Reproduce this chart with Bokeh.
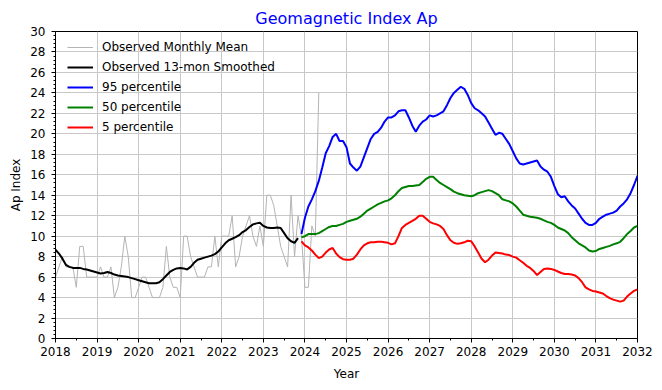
from bokeh.plotting import figure
from bokeh.models import Range1d, SingleIntervalTicker
from bokeh.embed import file_html
from bokeh.resources import INLINE

# Observed monthly mean Ap, Jan 2018 .. May 2024
obs_start = 2018.0
obs_monthly = [6, 7, 8, 7, 7, 7, 5, 9, 9, 6, 6, 6,
               6, 7, 6, 6, 7, 4, 5, 7, 10, 8, 4, 4,
               5, 6, 6, 5, 4, 4, 4, 5, 9, 6, 5, 5,
               4, 10, 10, 8, 7, 6, 6, 6, 7, 7, 10, 7,
               10, 10, 10, 12, 7, 8, 10, 11, 12, 10, 9, 11,
               9, 14, 14, 13, 11, 9, 8, 7, 14, 8, 12, 10,
               5, 5, 11, 10, 24]

# Observed 13-month smoothed, Jan 2018 .. Nov 2023
obs_smoothed = [8.67, 8.3, 7.8, 7.2, 7.0, 6.9, 6.9, 6.9, 6.8, 6.75, 6.65, 6.55,
                6.45, 6.35, 6.4, 6.5, 6.4, 6.25, 6.15, 6.1, 6.05, 6.0, 5.9, 5.8,
                5.7, 5.6, 5.5, 5.4, 5.4, 5.4, 5.5, 5.8, 6.15, 6.5, 6.7, 6.85,
                6.9, 6.85, 6.75, 7.0, 7.4, 7.7, 7.8, 7.9, 8.0, 8.1, 8.25, 8.5,
                8.9, 9.3, 9.6, 9.75, 9.9, 10.1, 10.4, 10.6, 10.9, 11.15, 11.25, 11.3,
                11.0, 10.85, 10.8, 10.8, 10.85, 10.8, 10.3, 9.8, 9.5, 9.35, 9.8]

# Predictions, Dec 2023 .. Jan 2032
pred_start = 2023 + 11 / 12
p95 = [10.2, 11.8, 12.9, 13.6, 14.4, 15.4, 16.7, 18.1, 18.8, 19.7, 20.0, 19.3,
       19.3, 18.7, 17.1, 16.7, 16.4, 16.8, 17.7, 18.6, 19.5, 20.0, 20.2, 20.6,
       21.2, 21.6, 21.6, 21.8, 22.2, 22.3, 22.3, 21.6, 20.8, 20.2, 20.8, 21.2,
       21.4, 21.8, 21.7, 21.8, 22.0, 22.2, 22.8, 23.5, 24.0, 24.3, 24.6, 24.4,
       23.8, 23.0, 22.5, 22.3, 22.0, 21.7, 21.1, 20.5, 19.9, 20.1, 20.0, 19.5,
       19.0, 18.3, 17.6, 17.1, 17.0, 17.1, 17.2, 17.3, 17.4, 16.8, 16.5, 16.3,
       15.8, 14.9, 14.1, 13.8, 13.9, 13.4, 13.0, 12.7, 12.2, 11.7, 11.3, 11.1,
       11.1, 11.3, 11.7, 11.9, 12.1, 12.2, 12.3, 12.5, 12.9, 13.2, 13.6, 14.2,
       15.0, 15.9]
p50 = [9.9, 10.0, 10.2, 10.2, 10.2, 10.3, 10.5, 10.7, 10.9, 11.0, 11.0, 11.1,
       11.2, 11.4, 11.5, 11.6, 11.7, 11.9, 12.2, 12.5, 12.7, 12.9, 13.1, 13.25,
       13.4, 13.5, 13.7, 14.0, 14.4, 14.7, 14.8, 14.9, 14.9, 14.95, 15.0, 15.3,
       15.6, 15.8, 15.8, 15.5, 15.2, 15.0, 14.8, 14.6, 14.35, 14.2, 14.1, 14.0,
       13.95, 13.9, 14.0, 14.2, 14.3, 14.4, 14.5, 14.4, 14.2, 14.0, 13.6, 13.5,
       13.4, 13.2, 12.9, 12.5, 12.1, 12.0, 11.9, 11.85, 11.8, 11.7, 11.55, 11.4,
       11.3, 11.1, 10.85, 10.7, 10.55, 10.3, 9.9, 9.6, 9.3, 9.1, 8.9, 8.6,
       8.5, 8.55, 8.75, 8.85, 8.95, 9.05, 9.2, 9.3, 9.45, 9.8, 10.2, 10.5,
       10.85, 11.0]
p5 = [9.5, 9.1, 8.9, 8.6, 8.2, 7.85, 8.0, 8.4, 8.7, 8.85, 8.3, 7.95,
      7.75, 7.7, 7.7, 7.8, 8.2, 8.7, 9.1, 9.3, 9.4, 9.4, 9.45, 9.45,
      9.4, 9.35, 9.2, 9.3, 10.0, 10.8, 11.1, 11.3, 11.5, 11.7, 12.0, 12.0,
      11.7, 11.4, 11.25, 11.15, 11.0, 10.7, 10.1, 9.6, 9.35, 9.25, 9.3, 9.4,
      9.55, 9.5, 9.0, 8.4, 7.8, 7.45, 7.7, 8.1, 8.4, 8.35, 8.3, 8.2,
      8.15, 8.0, 7.9, 7.65, 7.4, 7.1, 6.9, 6.6, 6.2, 6.5, 6.8, 6.85,
      6.8, 6.7, 6.55, 6.4, 6.3, 6.3, 6.25, 6.15, 5.9, 5.5, 5.0, 4.8,
      4.65, 4.6, 4.5, 4.4, 4.15, 3.95, 3.8, 3.7, 3.6, 3.7, 4.1, 4.4,
      4.65, 4.8]

x_obs = [obs_start + i / 12 for i in range(len(obs_monthly))]
x_sm = [obs_start + i / 12 for i in range(len(obs_smoothed))]
x_pred = [pred_start + i / 12 for i in range(len(p95))]

FONT = "DejaVu Sans"

p = figure(width=662, height=390, output_backend="svg", toolbar_location=None,
           x_range=Range1d(2018, 2032), y_range=Range1d(0, 30),
           title="Geomagnetic Index Ap",
           min_border_left=55, min_border_right=25, min_border_bottom=52,
           min_border_top=31)

p.line(x_obs, obs_monthly, line_color="#b4b4b4", line_width=1, legend_label="Observed Monthly Mean")
p.line(x_sm, obs_smoothed, line_color="black", line_width=2, legend_label="Observed 13-mon Smoothed")
p.line(x_pred, p95, line_color="#0000ff", line_width=2, legend_label="95 percentile")
p.line(x_pred, p50, line_color="#008000", line_width=2, legend_label="50 percentile")
p.line(x_pred, p5, line_color="#ff0000", line_width=2, legend_label="5 percentile")

p.title.text_color = "#0000ff"
p.title.text_font = FONT
p.title.text_font_size = "16px"
p.title.text_font_style = "normal"
p.title.align = "center"
p.title.standoff = 8

p.xaxis.ticker = SingleIntervalTicker(interval=1, num_minor_ticks=2)
p.yaxis.ticker = SingleIntervalTicker(interval=2, num_minor_ticks=5)
p.xaxis.axis_label = "Year"
p.yaxis.axis_label = "Ap Index"
for ax in (p.xaxis, p.yaxis):
    ax.axis_line_color = "black"
    ax.major_tick_line_color = "black"
    ax.minor_tick_line_color = "black"
    ax.major_tick_in = 0
    ax.major_tick_out = 4
    ax.minor_tick_in = 0
    ax.minor_tick_out = 2
    ax.major_label_text_font = FONT
    ax.major_label_text_font_size = "12px"
    ax.major_label_text_color = "black"
    ax.axis_label_text_font = FONT
    ax.axis_label_text_font_size = "12px"
    ax.axis_label_text_font_style = "normal"
    ax.axis_label_text_color = "black"
p.xaxis.major_label_standoff = 4
p.xaxis.axis_label_standoff = 8
p.yaxis.major_label_standoff = 6
p.yaxis.axis_label_standoff = 4

p.grid.grid_line_color = "#c8c8c8"
p.grid.grid_line_width = 1
p.grid.grid_line_alpha = 1
p.outline_line_color = "black"
p.outline_line_width = 1
p.outline_line_alpha = 1

lg = p.legend[0]
lg.location = (12, 201)
lg.margin = 0
lg.padding = 0
lg.spacing = 0
lg.glyph_width = 26
lg.glyph_height = 20
lg.label_height = 20
lg.label_standoff = 9
lg.label_text_font = FONT
lg.label_text_font_size = "12px"
lg.label_text_color = "black"
lg.background_fill_alpha = 0
lg.border_line_alpha = 0

open("out.html", "w").write(file_html(p, INLINE))
